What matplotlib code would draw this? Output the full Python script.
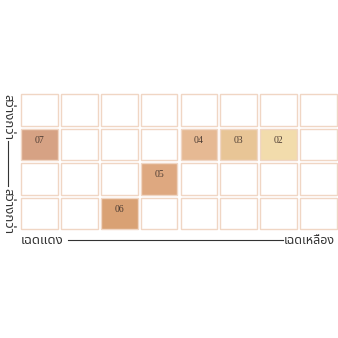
import matplotlib
matplotlib.use("Agg")
import matplotlib.pyplot as plt
from matplotlib.patches import Rectangle
from matplotlib.lines import Line2D

# grid 8 x 4, shades placed by (column, row), row 0 = top
n_cols = 8
n_rows = 4
shade_names = ["07", "04", "03", "02", "05", "06"]
shade_cols = [0, 4, 5, 6, 3, 2]
shade_rows = [1, 1, 1, 1, 2, 3]
shade_colors = ["#d6a284", "#e6b993", "#e8c596", "#f2dcac", "#dea880", "#d9a174"]

x_left_label = "เฉดแดง"
x_right_label = "เฉดเหลือง"
y_top_label = "สว่างกว่า"
y_bottom_label = "สว่างกว่า"

thai = "Noto Sans Thai"
border = "#f0d6c4"

fig = plt.figure(figsize=(3.38, 3.38), dpi=100)
ax = fig.add_axes([19.5 / 338, (338 - 230.75) / 338, 319 / 338, 138 / 338])
ax.set_xlim(0, n_cols)
ax.set_ylim(n_rows, 0)
ax.axis("off")

pad = 0.04
filled = {(c, r): (name, col) for name, c, r, col in zip(shade_names, shade_cols, shade_rows, shade_colors)}
for r in range(n_rows):
    for c in range(n_cols):
        face = "white"
        if (c, r) in filled:
            name, face = filled[(c, r)]
            ax.text(c + 0.5, r + 0.37, name, ha="center", va="center",
                    fontsize=7, family="Liberation Serif", color="#4d3c33")
        ax.add_patch(Rectangle((c + pad, r + pad), 1 - 2 * pad, 1 - 2 * pad,
                               facecolor=face, edgecolor=border, lw=1.0, zorder=0))

# axis captions drawn in figure pixels
def px(x, y):
    return x / 338, 1 - y / 338

tc = "#333333"
fig.text(*px(21, 240), x_left_label, family=thai, fontsize=9.5, color=tc, ha="left", va="center")
fig.text(*px(335, 240), x_right_label, family=thai, fontsize=9, color=tc, ha="right", va="center")
x0, y0 = px(68, 240)
x1, _ = px(283, 240)
fig.add_artist(Line2D([x0, x1], [y0, y0], transform=fig.transFigure, color=tc, lw=0.8))

fig.text(*px(8, 94), y_top_label, family=thai, fontsize=9.5, color=tc, rotation=-90, ha="center", va="top")
fig.text(*px(8, 234), y_bottom_label, family=thai, fontsize=9.5, color=tc, rotation=-90, ha="center", va="bottom")
xa, ya = px(7.5, 141)
_, yb = px(7.5, 186)
fig.add_artist(Line2D([xa, xa], [ya, yb], transform=fig.transFigure, color=tc, lw=0.8))

fig.savefig("out.png", dpi=100, facecolor="white")
